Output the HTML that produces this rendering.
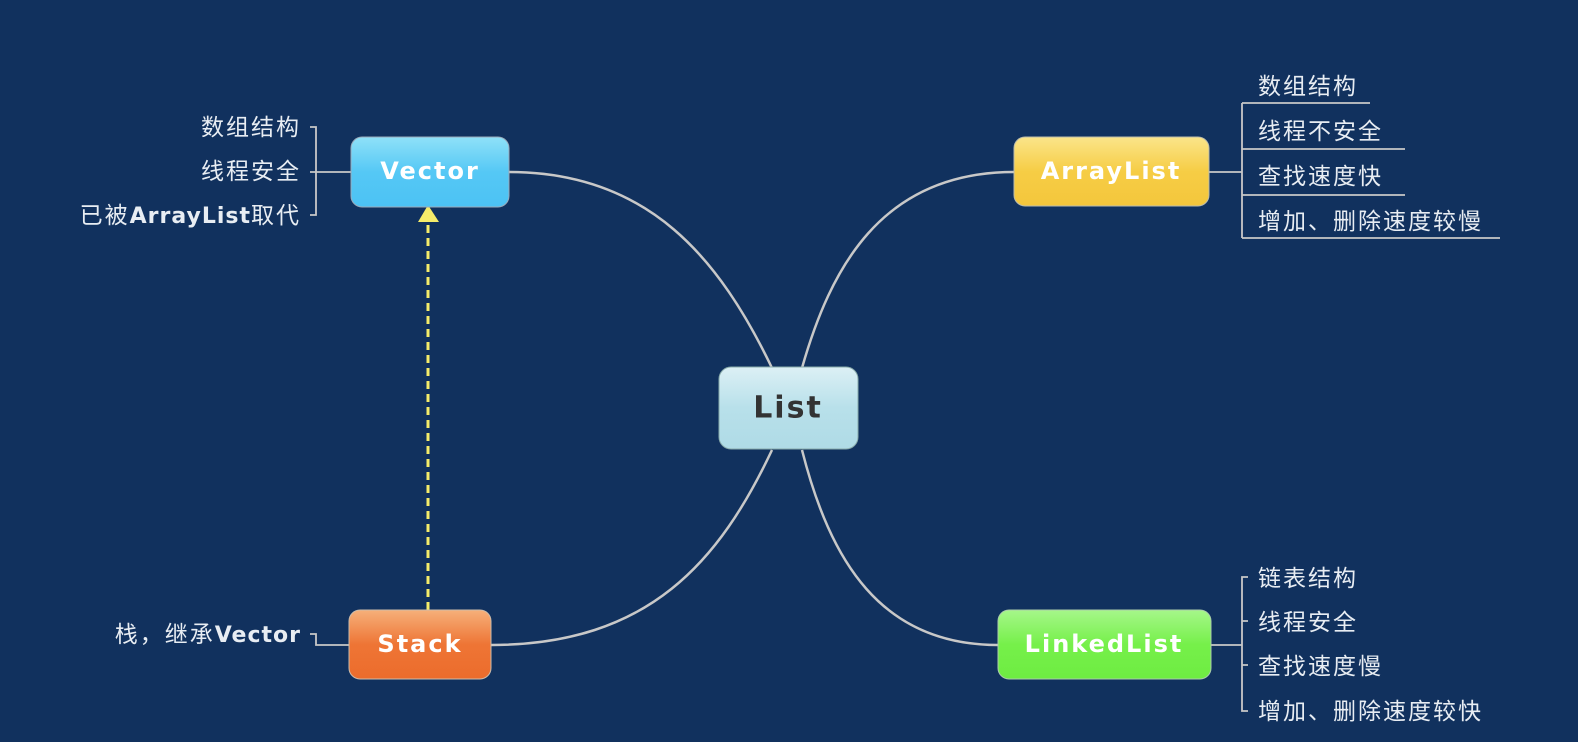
<!DOCTYPE html>
<html><head><meta charset="utf-8"><style>
html,body{margin:0;padding:0;background:#11315e;}
svg{display:block}
text{font-family:"Liberation Sans","DejaVu Sans","Noto Sans CJK SC",sans-serif;}
.t{fill:#e8edf3;font-size:23px;letter-spacing:2px;font-family:"Noto Sans CJK SC","WenQuanYi Zen Hei",sans-serif;}
.n{font-family:"DejaVu Sans","Liberation Sans",sans-serif;font-weight:bold;font-size:24px;letter-spacing:2px;fill:#fff;text-anchor:middle;dominant-baseline:central}
</style></head><body>
<svg width="1578" height="742" viewBox="0 0 1578 742" xmlns="http://www.w3.org/2000/svg">
<defs>
<linearGradient id="gv" x1="0" y1="0" x2="0" y2="1"><stop offset="0" stop-color="#8fe1f8"/><stop offset="0.5" stop-color="#55c8f5"/><stop offset="1" stop-color="#4cc2f4"/></linearGradient>
<linearGradient id="ga" x1="0" y1="0" x2="0" y2="1"><stop offset="0" stop-color="#fbe58a"/><stop offset="0.5" stop-color="#f6cd45"/><stop offset="1" stop-color="#f4c63c"/></linearGradient>
<linearGradient id="gl" x1="0" y1="0" x2="0" y2="1"><stop offset="0" stop-color="#dcf0f5"/><stop offset="0.5" stop-color="#b8e0ea"/><stop offset="1" stop-color="#afdbe6"/></linearGradient>
<linearGradient id="gs" x1="0" y1="0" x2="0" y2="1"><stop offset="0" stop-color="#f6b07a"/><stop offset="0.5" stop-color="#ee7535"/><stop offset="1" stop-color="#ec6c2c"/></linearGradient>
<linearGradient id="gk" x1="0" y1="0" x2="0" y2="1"><stop offset="0" stop-color="#a6f78a"/><stop offset="0.5" stop-color="#76f04a"/><stop offset="1" stop-color="#6eec42"/></linearGradient>
</defs>
<g fill="none" stroke="#c8c8c8" stroke-width="2.5">
<path d="M509,172 C650,172 720,260 772,368"/>
<path d="M1014,172 C880,172 830,270 802,368"/>
<path d="M491,645 C650,645 720,560 772,450"/>
<path d="M998,645 C880,645 830,560 802,450"/>
</g>
<g fill="none" stroke="#c8c8c8" stroke-width="1.8">
<path d="M310,127 H316 V215 H310 M310,172 H351"/>
<path d="M1209,172 H1242 M1242,103 V238 M1242,103 H1370 M1242,149 H1405 M1242,195 H1405 M1242,238 H1500"/>
<path d="M1211,645 H1242 M1248,577 H1242 V711 H1248 M1242,621 H1248 M1242,665 H1248"/>
<path d="M310,634 H316 V645 H349"/>
</g>
<line x1="428" y1="610" x2="428" y2="222" stroke="#f5ec6a" stroke-width="3" stroke-dasharray="8,5"/>
<polygon points="428,205 418,222 439,222" fill="#f5ec6a"/>
<rect x="351" y="137" width="158" height="70" rx="11" fill="url(#gv)" stroke="#9ab" stroke-width="1"/>
<text class="n" x="430" y="171">Vector</text>
<rect x="1014" y="137" width="195" height="69" rx="11" fill="url(#ga)" stroke="#bba" stroke-width="1"/>
<text class="n" x="1111" y="171">ArrayList</text>
<rect x="719" y="367" width="139" height="82" rx="12" fill="url(#gl)" stroke="#8aa" stroke-width="1"/>
<text class="n" x="788" y="408" style="fill:#333;font-size:30px">List</text>
<rect x="349" y="610" width="142" height="69" rx="11" fill="url(#gs)" stroke="#cba" stroke-width="1"/>
<text class="n" x="420" y="644">Stack</text>
<rect x="998" y="610" width="213" height="69" rx="11" fill="url(#gk)" stroke="#aca" stroke-width="1"/>
<text class="n" x="1104" y="644">LinkedList</text>
<text class="t" x="301" y="135" text-anchor="end">数组结构</text>
<text class="t" x="301" y="179" text-anchor="end">线程安全</text>
<text class="t" x="301" y="223" text-anchor="end">已被<tspan font-family="DejaVu Sans" font-weight="bold" font-size="22" letter-spacing="1">ArrayList</tspan>取代</text>
<text class="t" x="301" y="642" text-anchor="end">栈，继承<tspan font-family="DejaVu Sans" font-weight="bold" font-size="22" letter-spacing="1">Vector</tspan></text>
<text class="t" x="1258" y="94">数组结构</text>
<text class="t" x="1258" y="139">线程不安全</text>
<text class="t" x="1258" y="184">查找速度快</text>
<text class="t" x="1258" y="229">增加、删除速度较慢</text>
<text class="t" x="1258" y="586">链表结构</text>
<text class="t" x="1258" y="630">线程安全</text>
<text class="t" x="1258" y="674">查找速度慢</text>
<text class="t" x="1258" y="719">增加、删除速度较快</text>
</svg>
</body></html>
